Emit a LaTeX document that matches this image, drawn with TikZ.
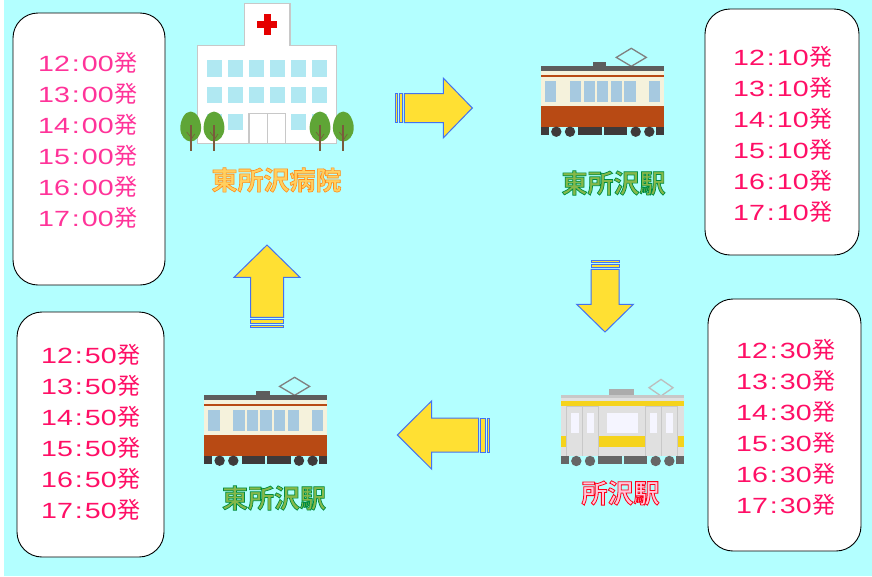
\documentclass[tikz,border=0pt]{standalone}
\usepackage{fontspec}
\newfontfamily\cjkfont{Noto Sans CJK JP}
\newfontfamily\cjkbold[UprightFont=* Bold]{Noto Sans CJK JP}
\newfontfamily\digitfont[FakeStretch=1.3]{Liberation Sans}
\definecolor{bgc}{HTML}{B3FFFF}
\definecolor{pinka}{HTML}{FF3399}
\definecolor{pinkb}{HTML}{FF0F66}
\definecolor{arrowy}{HTML}{FFE033}
\definecolor{arrowb}{HTML}{4472F0}
\definecolor{winb}{HTML}{B0E8F2}
\definecolor{hline}{HTML}{C8C8C8}
\definecolor{treeg}{HTML}{5FA536}
\definecolor{trunkc}{HTML}{7A5A3C}
\definecolor{trainr}{HTML}{B84A14}
\definecolor{traind}{HTML}{3E3A3A}
\definecolor{creamc}{HTML}{F5F2DC}
\definecolor{winc}{HTML}{A6C9E0}
\definecolor{roofd}{HTML}{5D5D5D}
\definecolor{bodyg}{HTML}{E0E0E0}
\definecolor{railg}{HTML}{666666}
\definecolor{stripey}{HTML}{F5D31C}
\definecolor{labo}{HTML}{FFD060}
\definecolor{labg}{HTML}{86B84A}
\definecolor{labp}{HTML}{FFC8DC}
\newcommand{\tl}[1]{{\digitfont\fontsize{22}{31}\selectfont #1}\hspace{1pt}{\cjkfont\fontsize{23}{31}\selectfont 発}}
\newcommand{\clk}[2]{#1\hspace{2pt}:\hspace{2pt}#2}
% outlined text: #1 fill, #2 stroke rgb, #3 stroke width, #4 text
\newcommand{\outl}[4]{\color{#1}\special{pdf:code q 2 Tr #3 w #2 RG}{\cjkbold\fontsize{26}{30}\selectfont #4}\special{pdf:code Q}}
\tikzset{
  x=1pt,y=-1pt,
  tbox/.style={draw=black,line width=0.9pt,fill=white,rounded corners=25pt},
  times/.style={inner sep=0pt,align=left,font=\fontsize{21}{31}\selectfont},
  lab/.style={inner sep=0pt},
  blockar/.style={draw=arrowb,fill=arrowy,line width=1pt,line join=miter},
  hwin/.style={fill=winb},
  hstroke/.style={draw=hline,line width=1.2pt,fill=white},
}
% x, y, rotation, length, head width, shaft width, head length, outer strip end, inner strip end
\newcommand{\blockarrow}[9]{%
  \begin{scope}[shift={(#1,#2)},rotate=#3]
    \draw[blockar] (#9+2,-#6/2) -- (#4-#7,-#6/2) -- (#4-#7,-#5/2) -- (#4,0) -- (#4-#7,#5/2) -- (#4-#7,#6/2) -- (#9+2,#6/2) -- cycle;
    \draw[blockar] (0,-#6/2) rectangle (#8,#6/2);
    \draw[blockar] (#8+2,-#6/2) rectangle (#9,#6/2);
  \end{scope}}
\newcommand{\wheels}[1]{%
  \fill[#1] (0,62) rectangle (7.7,70.3);
  \fill[#1] (37.3,62) rectangle (60.7,70.3);
  \fill[#1] (63,62) rectangle (86.3,70.3);
  \fill[#1] (115,62) rectangle (122.7,70.3);
  \foreach \wx in {15.3,29,94.7,108.3} \fill[#1] (\wx,67) circle (5.2);
}
\newcommand{\browntrain}[2]{%
  \begin{scope}[shift={(#1,#2)}]
    \draw[gray,line width=1.3pt] (75.3,-7.3) -- (90.3,-16.4) -- (105.3,-7.3) -- (90.3,1.6) -- cycle;
    \fill[roofd] (51.7,-3) rectangle (65.3,1.5);
    \fill[creamc] (0,6) rectangle (122.7,41);
    \fill[roofd] (0,1.3) rectangle (122.7,6);
    \fill[trainr] (0,10) rectangle (122.7,12);
    \foreach \wa/\wb in {4/15.3,29/40.3,42.7/54,56/67.3,69.7/81,83.3/94.7,107.7/119}
      \fill[winc] (\wa,16) rectangle (\wb,37);
    \fill[trainr] (0,41) rectangle (122.7,62);
    \wheels{traind}
  \end{scope}}
\newcommand{\tree}[1]{%
  \fill[treeg] (#1,111.5) .. controls (#1+6,111.5) and (#1+10.4,120) .. (#1+10.4,128) .. controls (#1+10.4,136) and (#1+5,141.5) .. (#1,141.5) .. controls (#1-5,141.5) and (#1-10.4,136) .. (#1-10.4,128) .. controls (#1-10.4,120) and (#1-6,111.5) .. (#1,111.5) -- cycle;
  \draw[trunkc,line width=1.7pt] (#1,125) -- (#1,151);
  \draw[trunkc,line width=0.6pt] (#1,137) -- (#1-4,132) (#1,140) -- (#1+4,134);
}
\begin{document}
\begin{tikzpicture}
\useasboundingbox (0,0) rectangle (872,576);
\fill[white] (0,0) rectangle (872,576);
\fill[bgc] (4,0) rectangle (872,576);

% time boxes
\draw[tbox] (13,13) rectangle (165,285);
\draw[tbox] (705,9) rectangle (859,255);
\draw[tbox] (708,299) rectangle (861,551);
\draw[tbox] (17,312) rectangle (164,557);

\node[times,text=pinka,anchor=north west] (t1) at (38,52) {\tl{\clk{12}{00}}\\\tl{\clk{13}{00}}\\\tl{\clk{14}{00}}\\\tl{\clk{15}{00}}\\\tl{\clk{16}{00}}\\\tl{\clk{17}{00}}};
\node[times,text=pinkb,anchor=north west] (t2) at (733,46) {\tl{\clk{12}{10}}\\\tl{\clk{13}{10}}\\\tl{\clk{14}{10}}\\\tl{\clk{15}{10}}\\\tl{\clk{16}{10}}\\\tl{\clk{17}{10}}};
\node[times,text=pinkb,anchor=north west] (t3) at (736,339) {\tl{\clk{12}{30}}\\\tl{\clk{13}{30}}\\\tl{\clk{14}{30}}\\\tl{\clk{15}{30}}\\\tl{\clk{16}{30}}\\\tl{\clk{17}{30}}};
\node[times,text=pinkb,anchor=north west] (t4) at (41,344) {\tl{\clk{12}{50}}\\\tl{\clk{13}{50}}\\\tl{\clk{14}{50}}\\\tl{\clk{15}{50}}\\\tl{\clk{16}{50}}\\\tl{\clk{17}{50}}};

% hospital
\draw[hstroke] (197.7,143.3) -- (197.7,45.7) -- (244.3,45.7) -- (244.3,3.7) -- (290,3.7) -- (290,45.7) -- (336.7,45.7) -- (336.7,143.3) -- cycle;
\fill[red!90!black] (263.5,14) rectangle (270.5,34.6);
\fill[red!90!black] (256.7,20.8) rectangle (277.3,27.8);
\foreach \hy/\hz in {60.3/76.7,87/103}
  \foreach \hx in {206.7,227.7,249,270,291.3,312.3}
    \fill[hwin] (\hx,\hy) rectangle (\hx+15,\hz);
\foreach \hx in {206.7,227.7,291.3,312.3}
  \fill[hwin] (\hx,113.7) rectangle (\hx+15,129.7);
\draw[hstroke] (249,143.3) rectangle (285.3,113.3);
\draw[hline,line width=1.2pt] (267.3,113.3) -- (267.3,143.3);
\tree{190.7}\tree{214}\tree{320}\tree{343.3}

% trains
\browntrain{541}{64.7}
\browntrain{204.3}{393.7}
\begin{scope}[shift={(561,394)}]
  \draw[hline!85!gray,line width=1.3pt] (88,-6.3) -- (100,-14.6) -- (112,-6.3) -- (100,2) -- cycle;
  \fill[gray!65] (48.3,-4.7) rectangle (73.3,1.5);
  \fill[bodyg] (0,4) rectangle (122.7,62);
  \fill[hline] (0,1.3) rectangle (122.7,4);
  \fill[stripey] (0,7.3) rectangle (122.7,11.7);
  \fill[stripey] (0,41.7) rectangle (122.7,53.3);
  \draw[hline,line width=1pt,fill=bodyg] (5.7,62) -- (5.7,12.7) -- (37.7,12.7) -- (37.7,62);
  \draw[hline,line width=1pt,fill=bodyg] (84.7,62) -- (84.7,12.7) -- (116.7,12.7) -- (116.7,62);
  \draw[hline,line width=1pt] (21.7,12.7) -- (21.7,62) (100.7,12.7) -- (100.7,62);
  \foreach \wa/\wb in {10.3/17.7,25.7/33.3,45.7/76.7,89/96.3,104.7/112.3}
    \fill[blue!4!white] (\wa,19.3) rectangle (\wb,38.7);
  \wheels{railg}
\end{scope}

% block arrows
\blockarrow{395}{108}{0}{77.3}{59.7}{29}{29}{2}{7.3}
\blockarrow{605}{260}{-90}{72}{56.6}{28}{27.7}{2.7}{7.3}
\blockarrow{267}{327.7}{90}{82.7}{66}{33}{32.3}{2.4}{8.4}
\blockarrow{489.3}{435}{180}{92}{68.3}{34}{34.4}{2}{8.6}

% labels
\node[lab] (l1) at (276.5,180) {\outl{labo}{1 0.55 0.1}{0.6}{東所沢病院}};
\node[lab] (l2) at (613.5,183) {\outl{labg}{0 0.55 0.25}{0.7}{東所沢駅}};
\node[lab] (l3) at (274,498) {\outl{labg}{0 0.55 0.25}{0.7}{東所沢駅}};
\node[lab] (l4) at (620.5,493) {\outl{labp}{1 0 0.1}{0.8}{所沢駅}};
\end{tikzpicture}
\end{document}
